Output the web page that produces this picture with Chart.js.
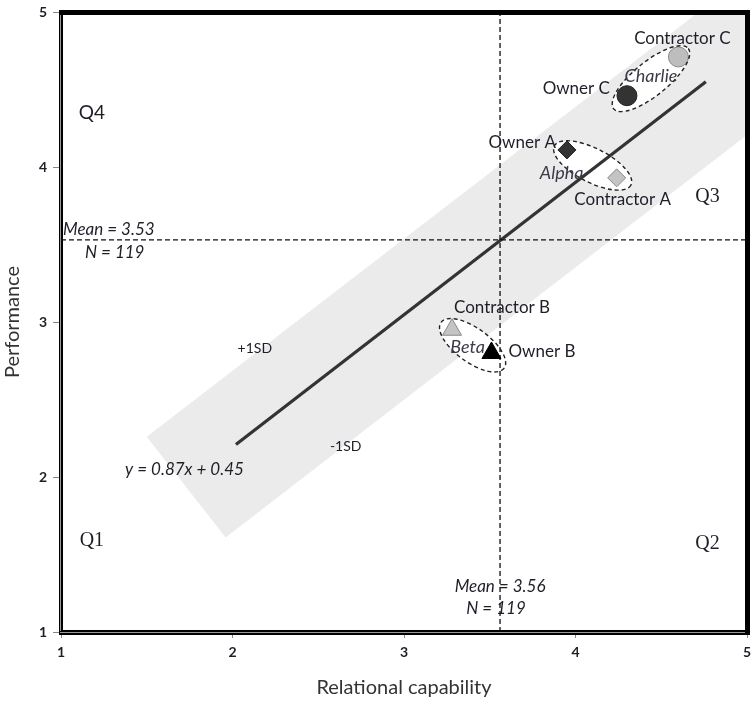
<!DOCTYPE html>
<html>
<head>
<meta charset="utf-8">
<script src="https://cdn.jsdelivr.net/npm/chart.js@4.4.1/dist/chart.umd.min.js"></script>
<style>
  html, body { margin: 0; padding: 0; background: #fff; overflow: hidden; }
  #wrap { width: 754px; height: 702px; }
  canvas { display: block; }
</style>
</head>
<body>
<div id="wrap"><canvas id="chart"></canvas></div>
<script>
// party scores: relational capability (x) vs performance (y)
const partyNames = ["Contractor C", "Owner C", "Owner A", "Contractor A", "Contractor B", "Owner B"];
const partyX = [4.60, 4.30, 3.95, 4.24, 3.28, 3.51];
const partyY = [4.71, 4.46, 4.11, 3.93, 2.95, 2.80];

// projects pairing owner + contractor (dashed ellipses)
const projectNames = ["Charlie", "Alpha", "Beta"];
const projectX = [4.44, 4.10, 3.40];
const projectY = [4.57, 4.01, 2.85];

// regression y = 0.87x + 0.45 and the +/-1SD band around it
const fitX = [2.02, 4.76];
const fitY = [2.21, 4.55];
const bandX = [1.50, 1.96, 5.66, 5.20, 1.50];
const bandY = [2.26, 1.61, 4.77, 5.41, 2.26];

const meanX = 3.56;
const meanY = 3.53;
const sampleN = 119;

const xTicks = [1, 2, 3, 4, 5];
const yTicks = [1, 2, 3, 4, 5];

const FONT = "Lato, 'Open Sans', sans-serif";
const INK = "#1e1e28";

// marker look per party
const partyStyle = {
  "Contractor C": { shape: "circle", fill: "#bdbdbd", line: "#8a8a8a", r: 10, dx: 4, dy: -18, align: "center" },
  "Owner C":      { shape: "circle", fill: "#333333", line: "#222222", r: 10, dx: -17, dy: -7, align: "right" },
  "Owner A":      { shape: "rectRot", fill: "#333333", line: "#222222", r: 9, dx: -11, dy: -7, align: "right" },
  "Contractor A": { shape: "rectRot", fill: "#c4c4c4", line: "#8a8a8a", r: 9, dx: 6, dy: 22, align: "center" },
  "Contractor B": { shape: "triangle", fill: "#c4c4c4", line: "#8a8a8a", r: 11, dx: 50, dy: -22, align: "center" },
  "Owner B":      { shape: "triangle", fill: "#000000", line: "#000000", r: 11, dx: 17, dy: -1, align: "left" },
};

// ellipse geometry in pixels (semi axes, rotation deg) + label offset
const projectStyle = {
  Charlie: { rx: 48, ry: 17, rot: -39, dx: 0, dy: -2 },
  Alpha:   { rx: 43, ry: 17, rot: 27, dx: -31, dy: 8 },
  Beta:    { rx: 39, ry: 17, rot: 36, dx: -5, dy: 2 },
};

const notes = [
  { text: "Q4", x: 1.18, y: 4.35, font: "19px " + FONT },
  { text: "Q3", x: 4.77, y: 3.81, font: "20px 'Liberation Serif', serif" },
  { text: "Q1", x: 1.18, y: 1.59, font: "20px 'Liberation Serif', serif" },
  { text: "Q2", x: 4.77, y: 1.57, font: "20px 'Liberation Serif', serif" },
  { text: "+1SD", x: 2.13, y: 2.83, font: "14px " + FONT },
  { text: "-1SD", x: 2.66, y: 2.20, font: "14px " + FONT },
  { text: "y = 0.87x + 0.45", x: 1.72, y: 2.05, font: "italic 17px " + FONT },
];

const partyData = partyNames.map((n, i) => ({
  type: "scatter",
  label: n,
  data: [{ x: partyX[i], y: partyY[i] }],
  pointStyle: partyStyle[n].shape,
  pointRadius: partyStyle[n].r,
  backgroundColor: partyStyle[n].fill,
  borderColor: partyStyle[n].line,
  borderWidth: 1,
  order: 1,
}));

const lineSet = (label, xs, ys, extra) => Object.assign({
  type: "scatter",
  label,
  data: xs.map((x, i) => ({ x, y: ys[i] })),
  showLine: true,
  pointRadius: 0,
}, extra);

const datasets = [
  ...partyData,
  lineSet("meanX", [meanX, meanX], [1, 5], { borderColor: "#111", borderWidth: 1.3, borderDash: [5, 3], order: 2 }),
  lineSet("meanY", [1, 5], [meanY, meanY], { borderColor: "#111", borderWidth: 1.3, borderDash: [5, 3], order: 2 }),
  lineSet("fit", fitX, fitY, { borderColor: "#333", borderWidth: 3.2, order: 3 }),
  lineSet("band", bandX, bandY, { borderWidth: 0, borderColor: "rgba(0,0,0,0)", backgroundColor: "#ebebeb", fill: "shape", order: 9 }),
];

const bandIndex = datasets.length - 1;

function ellipsePath(ctx, chart, i) {
  const st = projectStyle[projectNames[i]];
  const px = chart.scales.x.getPixelForValue(projectX[i]);
  const py = chart.scales.y.getPixelForValue(projectY[i]);
  ctx.beginPath();
  ctx.ellipse(px, py, st.rx, st.ry, st.rot * Math.PI / 180, 0, Math.PI * 2);
}

const overlay = {
  id: "overlay",
  afterDatasetDraw(chart, args) {
    if (args.index !== bandIndex) return;
    const ctx = chart.ctx;
    ctx.save();
    ctx.fillStyle = "#fff";
    projectNames.forEach((n, i) => { ellipsePath(ctx, chart, i); ctx.fill(); });
    ctx.restore();
  },
  afterDatasetsDraw(chart) {
    const ctx = chart.ctx;
    const sx = chart.scales.x, sy = chart.scales.y;
    const a = chart.chartArea;
    ctx.save();

    // dashed project ellipses + names
    ctx.strokeStyle = "#222";
    ctx.lineWidth = 1.4;
    ctx.setLineDash([4, 3]);
    projectNames.forEach((n, i) => { ellipsePath(ctx, chart, i); ctx.stroke(); });
    ctx.setLineDash([]);
    ctx.textBaseline = "middle";
    ctx.fillStyle = "#3a3a4a";
    ctx.font = "italic 18px " + FONT;
    ctx.textAlign = "center";
    projectNames.forEach((n, i) => {
      const st = projectStyle[n];
      ctx.fillText(n, sx.getPixelForValue(projectX[i]) + st.dx, sy.getPixelForValue(projectY[i]) + st.dy);
    });

    // party labels
    ctx.fillStyle = INK;
    ctx.font = "17px " + FONT;
    partyNames.forEach((n, i) => {
      const st = partyStyle[n];
      ctx.textAlign = st.align;
      ctx.fillText(n, sx.getPixelForValue(partyX[i]) + st.dx, sy.getPixelForValue(partyY[i]) + st.dy);
    });

    // free notes
    ctx.textAlign = "center";
    notes.forEach((t) => {
      ctx.font = t.font;
      ctx.fillText(t.text, sx.getPixelForValue(t.x), sy.getPixelForValue(t.y));
    });

    // mean annotations
    ctx.font = "italic 17px " + FONT;
    const my = sy.getPixelForValue(meanY);
    ctx.textAlign = "left";
    ctx.fillText("Mean = " + meanY.toFixed(2), a.left + 2, my - 10);
    ctx.fillText("N = " + sampleN, a.left + 24, my + 13);
    const mx = sx.getPixelForValue(meanX);
    ctx.textAlign = "center";
    ctx.fillText("Mean = " + meanX.toFixed(2), mx, a.bottom - 45);
    ctx.fillText("N = " + sampleN, mx - 4, a.bottom - 23);

    // heavy plot frame (filled bars)
    const L = a.left, R = a.right, T = a.top, B = a.bottom;
    ctx.fillStyle = "#000";
    ctx.fillRect(L - 2, T - 2, R - L + 4, 5);
    ctx.fillRect(R - 2, T - 2, 5, B - T + 5);
    ctx.fillRect(L - 2, B - 2, R - L + 5, 5);
    ctx.fillRect(L - 2, T - 2, 4, B - T + 5);
    ctx.fillStyle = "#9a9a9a";
    ctx.fillRect(L - 1, T + 3, 1, B - T - 4);
    ctx.fillRect(L - 1, B, R - L - 1, 1);
    ctx.restore();
  },
};

new Chart(document.getElementById("chart"), {
  type: "scatter",
  data: { datasets },
  plugins: [overlay],
  options: {
    responsive: true, maintainAspectRatio: false, animation: false,
    layout: { autoPadding: false, padding: { top: 12, right: 7, left: 0, bottom: 0 } },
    plugins: { legend: { display: false }, tooltip: { enabled: false } },
    scales: {
      x: {
        type: "linear", min: 1, max: 5,
        afterFit: (s) => { s.height = 70; s.paddingLeft = 0; s.paddingRight = 0; },
        afterBuildTicks: (s) => { s.ticks = xTicks.map((v) => ({ value: v })); },
        ticks: { color: INK, padding: 6, font: { family: FONT, size: 14, weight: "bold" } },
        grid: { drawOnChartArea: false, tickLength: 6, color: "#888" },
        border: { display: false },
        title: { display: true, text: "Relational capability", color: "#333", padding: { top: 2, bottom: 2 }, font: { family: FONT, size: 20 } },
      },
      y: {
        type: "linear", min: 1, max: 5,
        afterFit: (s) => { s.width = 61; s.paddingTop = 0; s.paddingBottom = 0; },
        afterBuildTicks: (s) => { s.ticks = yTicks.map((v) => ({ value: v })); },
        ticks: { color: INK, padding: 6, font: { family: FONT, size: 14, weight: "bold" } },
        grid: { drawOnChartArea: false, tickLength: 8, color: "#888" },
        border: { display: false },
        title: { display: true, text: "Performance", color: "#333", padding: { top: 1, bottom: 1 }, font: { family: FONT, size: 20 } },
      },
    },
  },
});
</script>
</body>
</html>
